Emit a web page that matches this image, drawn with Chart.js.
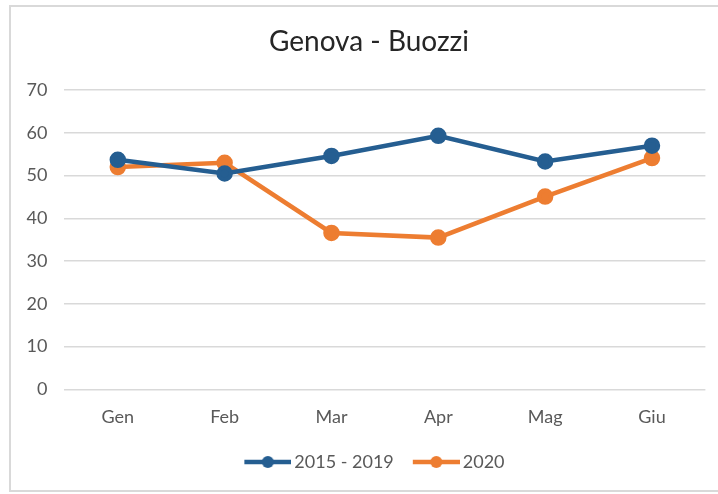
<!DOCTYPE html>
<html>
<head>
<meta charset="utf-8">
<script src="https://cdn.jsdelivr.net/npm/chart.js@4.4.0/dist/chart.umd.min.js"></script>
<style>
    html, body { margin: 0; padding: 0; background: #fff; }
    #frame {
        position: absolute;
        left: 9px; top: 5px;
        width: 720px; height: 487px;
        border: 2px solid #d9d9d9;
        box-sizing: border-box;
    }
    #wrap { position: absolute; left: 0; top: 0; width: 718px; height: 494px; }
</style>
</head>
<body>
<div id="frame"></div>
<div id="wrap"><canvas id="lineChart" width="718" height="494"></canvas></div>
<script>
// Data
const months = ['Gen', 'Feb', 'Mar', 'Apr', 'Mag', 'Giu'];
const avg2015_2019 = [53.7, 50.5, 54.6, 59.3, 53.3, 57.0];
const values2020 = [52.0, 53.0, 36.6, 35.5, 45.1, 54.1];
const seriesNames = ['2015 - 2019', '2020'];

const colors = {
    blue: '#255e91',
    orange: '#ed7d31',
    grid: '#d9d9d9',
    text: '#595959'
};

const fontFamily = 'Lato, "Liberation Sans", sans-serif';

// Legend marker: a short line with a dot, shifted right so it sits close to its text
function legendMarker(color) {
    const c = document.createElement('canvas');
    c.width = 64;
    c.height = 14;
    const ctx = c.getContext('2d');
    ctx.strokeStyle = color;
    ctx.lineWidth = 4.5;
    ctx.beginPath();
    ctx.moveTo(17, 7);
    ctx.lineTo(64, 7);
    ctx.stroke();
    ctx.fillStyle = color;
    ctx.beginPath();
    ctx.arc(40.5, 7, 6, 0, Math.PI * 2);
    ctx.fill();
    return c;
}

const markers = [legendMarker(colors.blue), legendMarker(colors.orange)];

// Excel centres title and legend on the whole frame, not on the box right of the y labels
const centreShift = {
    id: 'centreShift',
    afterLayout(chart) {
        const dx = 11.5;
        [chart.titleBlock, chart.legend].forEach(box => {
            if (box) {
                box.left += dx;
                box.right += dx;
            }
        });
    }
};

const ctx = document.getElementById('lineChart');
new Chart(ctx, {
    type: 'line',
    data: {
        labels: months,
        datasets: [{
            label: seriesNames[0],
            data: avg2015_2019,
            borderColor: colors.blue,
            backgroundColor: colors.blue,
            borderWidth: 4.5,
            pointRadius: 6,
            pointHoverRadius: 6,
            tension: 0
        }, {
            label: seriesNames[1],
            data: values2020,
            borderColor: colors.orange,
            backgroundColor: colors.orange,
            borderWidth: 4.5,
            pointRadius: 6,
            pointHoverRadius: 6,
            tension: 0
        }]
    },
    options: {
        responsive: false,
        animation: false,
        layout: {
            padding: { top: 13, left: 9.5, right: 12.6, bottom: 13 }
        },
        scales: {
            y: {
                min: 0,
                max: 70,
                ticks: {
                    stepSize: 10,
                    color: colors.text,
                    padding: 17,
                    font: { size: 18, family: fontFamily }
                },
                grid: {
                    color: colors.grid,
                    lineWidth: 1.5,
                    drawTicks: false
                },
                border: { display: false }
            },
            x: {
                offset: true,
                ticks: {
                    color: colors.text,
                    padding: 17,
                    font: { size: 18, family: fontFamily }
                },
                grid: { display: false, drawTicks: false },
                border: { display: false }
            }
        },
        plugins: {
            title: {
                display: true,
                text: 'Genova - Buozzi',
                color: '#262626',
                padding: { top: 12, bottom: 31.5 },
                font: { size: 28, weight: 'normal', family: fontFamily }
            },
            legend: {
                position: 'bottom',
                labels: {
                    color: colors.text,
                    usePointStyle: true,
                    pointStyleWidth: 52,
                    boxHeight: 14,
                    padding: 8,
                    font: { size: 18, family: fontFamily },
                    generateLabels: function(chart) {
                        const items = Chart.defaults.plugins.legend.labels.generateLabels(chart);
                        items.forEach((item, i) => {
                            item.pointStyle = markers[i];
                        });
                        return items;
                    }
                }
            },
            tooltip: { enabled: false }
        }
    },
    plugins: [centreShift]
});
</script>
</body>
</html>
